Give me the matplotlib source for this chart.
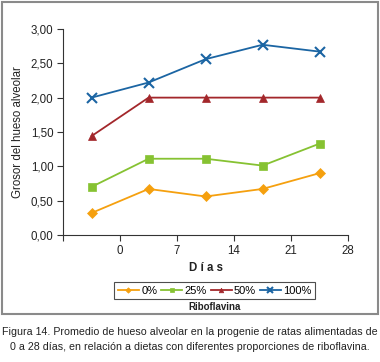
import matplotlib
matplotlib.use("Agg")
import matplotlib.pyplot as plt
from matplotlib.patches import Rectangle

plt.rcParams['font.family'] = ['Liberation Sans', 'DejaVu Sans']

# category positions (points sit between the Excel-style tick marks)
dias_pos = [-3.5, 3.5, 10.5, 17.5, 24.5]
x_ticks = [0, 7, 14, 21, 28]

series_names = ["0%", "25%", "50%", "100%"]
val_0 = [0.32, 0.67, 0.56, 0.67, 0.90]
val_25 = [0.70, 1.11, 1.11, 1.01, 1.33]
val_50 = [1.44, 2.00, 2.00, 2.00, 2.00]
val_100 = [2.00, 2.22, 2.56, 2.77, 2.67]

y_ticks = [0.0, 0.5, 1.0, 1.5, 2.0, 2.5, 3.0]
y_labels = ["0,00", "0,50", "1,00", "1,50", "2,00", "2,50", "3,00"]

colors = ["#F5A00F", "#86C232", "#A3272B", "#1B65A3"]
markers = ["D", "s", "^", "x"]
msizes = [5, 5.5, 6, 7]

fig = plt.figure(figsize=(3.8, 3.62), dpi=100)
ax = fig.add_axes([0.166, 0.351, 0.750, 0.569])

for vals, name, c, m, ms in zip([val_0, val_25, val_50, val_100], series_names,
                                colors, markers, msizes):
    ax.plot(dias_pos, vals, color=c, marker=m, markersize=ms, lw=1.3,
            markeredgewidth=1.5 if m == "x" else 0.5, label=name)

ax.set_xlim(-7, 28)
ax.set_ylim(0, 3.0)
ax.set_xticks([-7] + x_ticks)
ax.set_xticklabels([""] + [str(t) for t in x_ticks])
ax.set_yticks(y_ticks)
ax.set_yticklabels(y_labels)
ax.spines['top'].set_visible(False)
ax.spines['right'].set_visible(False)
for s in ['left', 'bottom']:
    ax.spines[s].set_color('#333333')
    ax.spines[s].set_linewidth(0.8)
ax.tick_params(direction='out', length=4, width=0.8, colors='#333333',
               labelsize=8.3, labelcolor='#222222', pad=3)

ax.set_ylabel("Grosor del hueso alveolar", fontsize=8.3, color='#222222', labelpad=5)
ax.set_xlabel("D í a s", fontsize=8.3, fontweight='bold', color='#222222', labelpad=4)

leg = fig.legend(loc='center', bbox_to_anchor=(0.565, 1 - 290.5 / 362), ncol=4,
                 fontsize=8, frameon=True, fancybox=False, edgecolor='#222222',
                 handlelength=1.9, handletextpad=0.2, columnspacing=0.35,
                 borderpad=0.35, borderaxespad=0, markerscale=0.55)
leg.get_frame().set_linewidth(0.8)
fig.text(0.565, 1 - 307 / 362, "Riboflavina", ha='center', va='center',
         fontsize=7, fontweight='bold', color='#222222')

# outer chart frame
fig.patches.append(Rectangle((2 / 380, 1 - 314 / 362), 376 / 380, 312 / 362,
                             transform=fig.transFigure, fill=False,
                             edgecolor='#8a8a8a', linewidth=1.5))

fig.text(0.5, 1 - 332 / 362,
         "Figura 14. Promedio de hueso alveolar en la progenie de ratas alimentadas de",
         ha='center', va='center', fontsize=7.7, color='#222222')
fig.text(0.5, 1 - 347 / 362,
         "0 a 28 días, en relación a dietas con diferentes proporciones de riboflavina.",
         ha='center', va='center', fontsize=7.7, color='#222222')

fig.savefig("out.png", dpi=100)
